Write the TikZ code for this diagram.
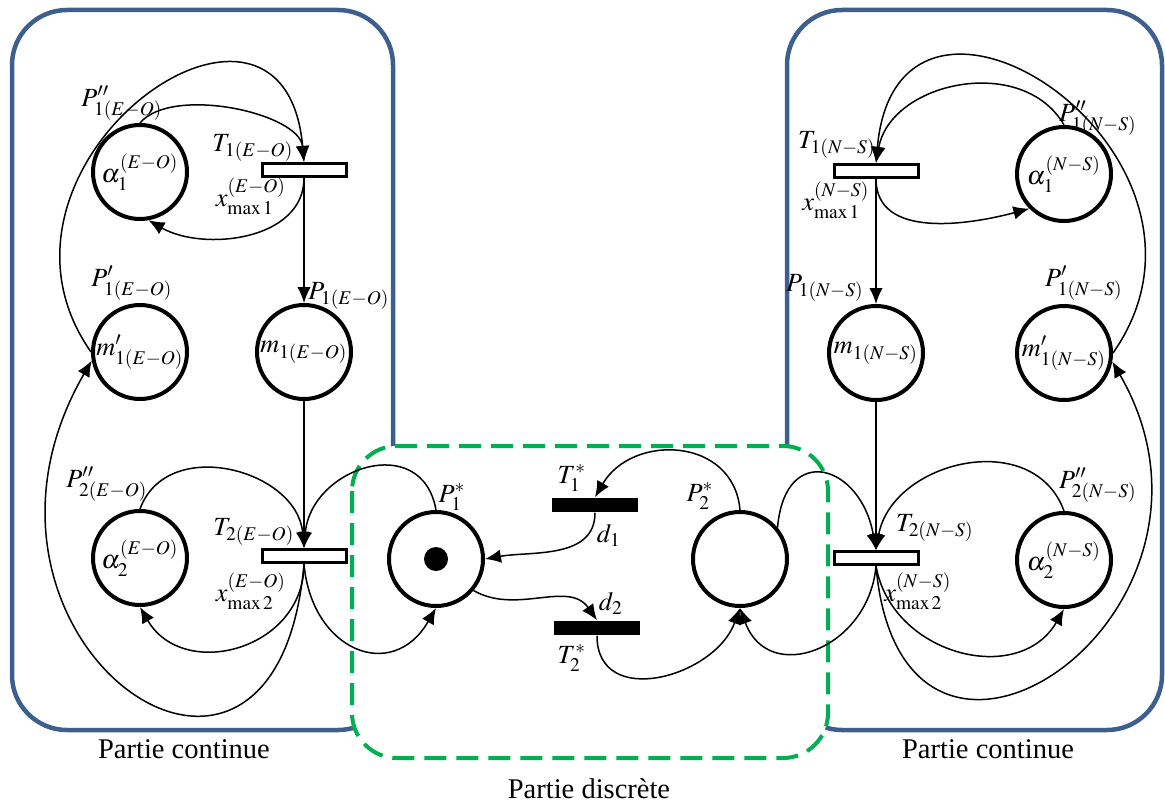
\documentclass[tikz,border=0pt]{standalone}
\usepackage{mathptmx}
\usepackage{fontspec}
\setmainfont{Liberation Serif}
\usetikzlibrary{arrows.meta}
\definecolor{boxblue}{HTML}{3C5F8E}
\definecolor{boxgreen}{HTML}{00B050}
\tikzset{
  every node/.style={font=\fontsize{10.5}{12}\selectfont},
  place/.style={circle, draw, line width=1.6pt, minimum size=37.6pt, inner sep=0pt},
  thollow/.style={rectangle, draw, fill=white, line width=1.2pt, minimum width=33.6pt, minimum height=5.2pt, inner sep=0pt},
  tbar/.style={rectangle, fill=black, minimum width=34.4pt, minimum height=5.8pt, inner sep=0pt},
  flow/.style={line width=0.6pt, -{Latex[length=6.4pt,width=5.4pt]}},
  partbox/.style={line width=1.8pt, rounded corners=22pt}
}

\begin{document}
\begin{tikzpicture}[x=0.4pt,y=-0.4pt]
  \useasboundingbox (0,0) rectangle (1165,806);
  % zones
  \draw[partbox, boxblue] (12,10) rectangle (393,730);
  \draw[partbox, boxblue] (787,10) rectangle (1162,730);
  \draw[boxgreen, fill=white, line width=1.6pt, dash pattern=on 8.8pt off 4pt, rounded corners=18pt] (352,446) rectangle (828,758);
  \node (cont1) at (184,749) {\fontsize{11.4}{13}\selectfont Partie continue};
  \node (cont2) at (988,749) {\fontsize{11.4}{13}\selectfont Partie continue};
  \node (disc)  at (589,789) {\fontsize{11.4}{13}\selectfont Partie discrète};

  % partie E-O
  \node[place] (a1E)  at (140,172) {$\alpha_1^{(E-O)}$};
  \node[place] (m1pE) at (140,352) {$m'_{1(E-O)}$};
  \node[place] (m1E)  at (304,352) {$m_{1(E-O)}$};
  \node[place] (a2E)  at (140,558) {$\alpha_2^{(E-O)}$};
  \node[thollow] (T1E) at (304,170) {};
  \node[thollow] (T2E) at (304,556) {};

  % partie discrete
  \node[place] (P1) at (436,559) {};
  \node[circle, fill, minimum size=9.6pt, inner sep=0pt] (tok) at (P1) {};
  \node[place] (P2) at (740,559) {};
  \node[tbar] (T1s) at (595,505) {};
  \node[tbar] (T2s) at (597,628) {};

  % partie N-S
  \node[place] (a1N)  at (1064,174) {$\alpha_1^{(N-S)}$};
  \node[place] (m1N)  at (876,353)  {$m_{1(N-S)}$};
  \node[place] (m1pN) at (1064,353) {$m'_{1(N-S)}$};
  \node[place] (a2N)  at (1064,560) {$\alpha_2^{(N-S)}$};
  \node[thollow] (T1N) at (876,171) {};
  \node[thollow] (T2N) at (876,558) {};

  % labels
  \node (lP1ppE) at (122,103) {$P''_{1(E-O)}$};
  \node (lT1E)   at (253,148) {$T_{1(E-O)}$};
  \node (lx1E)   at (251,196) {$x_{\max 1}^{(E-O)}$};
  \node (lP1pE)  at (132,283) {$P'_{1(E-O)}$};
  \node (lP1E)   at (349,296) {$P_{1(E-O)}$};
  \node (lP2ppE) at (107,484) {$P''_{2(E-O)}$};
  \node (lT2E)   at (254,532) {$T_{2(E-O)}$};
  \node (lx2E)   at (251,591) {$x_{\max 2}^{(E-O)}$};
  \node (lP1s)   at (452,497) {$P_1^*$};
  \node (lT1s)   at (572,478) {$T_1^*$};
  \node (ld1)    at (609,535) {$d_1$};
  \node (ld2)    at (611,603) {$d_2$};
  \node (lT2s)   at (572,658) {$T_2^*$};
  \node (lP2s)   at (700,496) {$P_2^*$};
  \node (lT1N)   at (837,145) {$T_{1(N-S)}$};
  \node (lx1N)   at (836,200) {$x_{\max 1}^{(N-S)}$};
  \node (lP1ppN) at (1098,118) {$P''_{1(N-S)}$};
  \node (lP1N)   at (825,288) {$P_{1(N-S)}$};
  \node (lP1pN)  at (1084,283) {$P'_{1(N-S)}$};
  \node (lT2N)   at (935,528) {$T_{2(N-S)}$};
  \node (lx2N)   at (918,591) {$x_{\max 2}^{(N-S)}$};
  \node (lP2ppN) at (1098,485) {$P''_{2(N-S)}$};

  % arcs E-O
  \draw[flow] (a1E.north) to[out=50,in=95,looseness=0.75] (T1E.north);
  \draw[flow] (T1E.south) to[out=-90,in=-30] (a1E.-80);
  \draw[flow] (m1pE.west) to[out=125,in=95,looseness=2.05] (T1E.north);
  \draw[flow] (T1E.south) -- (m1E.north);
  \draw[flow] (m1E.south) -- (T2E.north);
  \draw[flow] (a2E.north) to[out=70,in=95,looseness=1.2] (T2E.north);
  \draw[flow] (T2E.south) to[out=-90,in=-60,looseness=1.3] (a2E.south);
  \draw[flow] (T2E.south) to[out=-95,in=-120,looseness=2.8] (m1pE.190);
  \draw[flow] (P1.north) to[out=100,in=85,looseness=1.5] (T2E.north);
  \draw[flow] (T2E.south) to[out=-85,in=-120,looseness=1.6] (P1.south);

  % arcs discrete
  \draw[flow] (T1s.south) to[out=-90,in=10] (P1.east);
  \draw[flow] (P1.-40) to[out=-30,in=125] (T2s.north);
  \draw[flow] (P2.north) to[out=95,in=60,looseness=1.3] (T1s.north);
  \draw[flow] (T2s.south) to[out=-90,in=-110,looseness=1.3] (P2.south);

  % arcs N-S
  \draw[flow] (P2.40) to[out=85,in=100,looseness=2.2] (T2N.north);
  \draw[flow] (T2N.south) to[out=-95,in=-70,looseness=1.5] (P2.south);
  \draw[flow] (a1N.north) to[out=120,in=80,looseness=1.1] (T1N.north);
  \draw[flow] (T1N.south) to[out=-90,in=-165] (a1N.225);
  \draw[flow] (m1pN.east) to[out=55,in=85,looseness=2.05] (T1N.north);
  \draw[flow] (T1N.south) -- (m1N.north);
  \draw[flow] (m1N.south) -- (T2N.north);
  \draw[flow] (a2N.north) to[out=110,in=80,looseness=1.2] (T2N.north);
  \draw[flow] (T2N.south) to[out=-80,in=-120,looseness=1.2] (a2N.south);
  \draw[flow] (T2N.south) to[out=-85,in=-60,looseness=2.4] (m1pN.-10);
\end{tikzpicture}
\end{document}
